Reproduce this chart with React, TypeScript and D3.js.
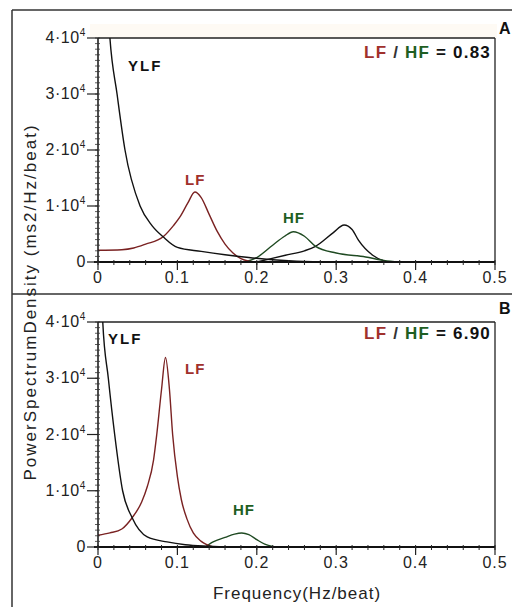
import React from "react";
import * as d3 from "d3";

// panel A: spectrum (freq Hz/beat, psd ms2/Hz/beat)
const aYlf: [number, number][] = [
  [0.01, 52000], [0.015, 40000], [0.024, 30000], [0.034, 20000], [0.053, 10000],
  [0.068, 6500], [0.082, 4500], [0.1, 2600], [0.13, 1900], [0.16, 1300],
  [0.19, 800], [0.22, 400], [0.25, 150], [0.3, 0],
];
const aLf: [number, number][] = [
  [0, 2100], [0.03, 2200], [0.045, 2500], [0.06, 3200], [0.082, 4500],
  [0.095, 6500], [0.103, 8000], [0.113, 10500], [0.122, 12500], [0.13, 11500],
  [0.14, 8500], [0.15, 5500], [0.16, 3200], [0.17, 1600], [0.18, 600], [0.19, 150], [0.2, 0],
];
const aHf: [number, number][] = [
  [0.185, 0], [0.2, 800], [0.22, 3000], [0.235, 4600], [0.246, 5400], [0.26, 4600],
  [0.274, 2800], [0.3, 1600], [0.337, 900], [0.36, 300], [0.38, 0],
];
const aVhf: [number, number][] = [
  [0.2, 0], [0.236, 1200], [0.26, 2000], [0.274, 2800], [0.296, 5200], [0.31, 6600],
  [0.32, 5800], [0.328, 3900], [0.346, 1200], [0.36, 200], [0.37, 0],
];
const aRatio = "0.83";

// panel B
const bYlf: [number, number][] = [
  [0.004, 60000], [0.006, 40000], [0.013, 30000], [0.021, 20000], [0.031, 10000],
  [0.043, 5200], [0.062, 1800], [0.087, 900], [0.11, 400], [0.14, 150], [0.17, 0],
];
const bLf: [number, number][] = [
  [0, 2100], [0.015, 2500], [0.03, 3200], [0.043, 5200], [0.055, 8000], [0.062, 10700],
  [0.07, 15500], [0.074, 20000], [0.08, 28000], [0.085, 33700], [0.09, 28000],
  [0.094, 20000], [0.1, 12500], [0.105, 8400], [0.112, 5000], [0.12, 2500],
  [0.13, 1000], [0.145, 0],
];
const bHf: [number, number][] = [
  [0.135, 0], [0.145, 900], [0.16, 1700], [0.172, 2300], [0.181, 2500], [0.19, 2200],
  [0.2, 1300], [0.21, 500], [0.22, 100], [0.225, 0],
];
const bRatio = "6.90";

const xTicks = [0, 0.1, 0.2, 0.3, 0.4, 0.5];
const yTicks = [0, 10000, 20000, 30000, 40000];

const LF_COL = "#7a2222";
const HF_COL = "#1f4a22";
const LF_TXT = "#a0302c";
const HF_TXT = "#1e5e22";
const FONT = "'Liberation Sans', Arial, sans-serif";

function Panel({ id, top, bottom, ylf, lf, hf, vhf, ratio, labels }: any) {
  const x = d3.scaleLinear().domain([0, 0.5]).range([98, 495]);
  const y = d3.scaleLinear().domain([0, 40000]).range([bottom, top]);
  const line = d3.line<[number, number]>()
    .x(d => x(d[0]))
    .y(d => y(d[1]))
    .curve(d3.curveMonotoneX);
  const minorX = d3.range(0, 0.5001, 0.02);
  const minorY = d3.range(0, 40001, 1000);
  const fmtY = (v: number) => v === 0 ? "0" : null;
  return (
    <g>
      <defs>
        <clipPath id={"clip" + id}>
          <rect x={x(0)} y={y(40000)} width={x(0.5) - x(0)} height={y(0) - y(40000) + 2} />
        </clipPath>
      </defs>
      {/* frame */}
      <line x1={x(0)} x2={x(0.5)} y1={y(40000)} y2={y(40000)} stroke="#222" strokeWidth={1.3} />
      <line x1={x(0.5)} x2={x(0.5)} y1={y(40000)} y2={y(0)} stroke="#222" strokeWidth={1.3} />
      {/* curves */}
      <g clipPath={`url(#clip${id})`} fill="none" strokeWidth={1.4}>
        {vhf && <path d={line(vhf) || ""} stroke="#111" />}
        <path d={line(hf) || ""} stroke={HF_COL} />
        <path d={line(lf) || ""} stroke={LF_COL} />
        <path d={line(ylf) || ""} stroke="#111" />
      </g>
      {/* x axis */}
      <line x1={x(0) - 4} x2={x(0.5)} y1={y(0)} y2={y(0)} stroke="#111" strokeWidth={2} />
      {minorX.map((t, i) => (
        <line key={"mx" + i} x1={x(t)} x2={x(t)} y1={y(0) - 2} y2={y(0) + 3} stroke="#222" strokeWidth={1} />
      ))}
      {xTicks.map(t => (
        <g key={"xt" + t}>
          <line x1={x(t)} x2={x(t)} y1={y(0)} y2={y(0) + 8} stroke="#222" strokeWidth={1.2} />
          <text x={x(t)} y={y(0) + 21} textAnchor="middle" fontSize={16} letterSpacing={1}
            fill="#222" fontFamily={FONT}>{t === 0 ? "0" : d3.format(".1f")(t)}</text>
        </g>
      ))}
      {/* y axis */}
      <line x1={x(0)} x2={x(0)} y1={y(40000)} y2={y(0)} stroke="#111" strokeWidth={1.5} />
      {minorY.map((t, i) => (
        <line key={"my" + i} x1={x(0) - 3} x2={x(0) + 2} y1={y(t)} y2={y(t)} stroke="#333" strokeWidth={0.8} />
      ))}
      {yTicks.map(t => (
        <g key={"yt" + t}>
          <line x1={x(0) - 11} x2={x(0)} y1={y(t)} y2={y(t)} stroke="#222" strokeWidth={1.2} />
          <text x={x(0) - 12} y={y(t) + 5} textAnchor="end" fontSize={16} letterSpacing={0.6}
            fill="#222" fontFamily={FONT}>
            {fmtY(t) ?? (
              <>
                {`${t / 10000}·10`}
                <tspan fontSize={10} dy={-7}>4</tspan>
              </>
            )}
          </text>
        </g>
      ))}
      {/* labels */}
      <g fontFamily={FONT} fontWeight="bold">
        <text x={labels.ylf[0]} y={labels.ylf[1]} fontSize={15} letterSpacing={2} fill="#111">YLF</text>
        <text x={labels.lf[0]} y={labels.lf[1]} fontSize={15} letterSpacing={1} fill={LF_TXT}>LF</text>
        <text x={labels.hf[0]} y={labels.hf[1]} fontSize={15} letterSpacing={1} fill={HF_TXT}>HF</text>
        <text x={491} y={labels.ratioY} textAnchor="end" fontSize={17} letterSpacing={1.2} fill="#111">
          <tspan fill={LF_TXT}>LF</tspan>
          <tspan fill="#333"> / </tspan>
          <tspan fill={HF_TXT}>HF</tspan>
          <tspan> = {ratio}</tspan>
        </text>
        <text x={499} y={labels.panelY} fontSize={16} fill="#111">{id}</text>
      </g>
    </g>
  );
}

export default function App() {
  return (
    <svg width={512} height={607} style={{ position: "absolute", left: 0, top: 0, background: "#fff" }}>
      <rect x={90} y={24} width={407} height={14} fill="#fefaf4" />
      <line x1={12} x2={512} y1={10} y2={10} stroke="#333" strokeWidth={1.5} />
      <line x1={12} x2={12} y1={10} y2={607} stroke="#333" strokeWidth={1.5} />
      <line x1={12} x2={512} y1={294} y2={294} stroke="#333" strokeWidth={1.5} />
      <Panel id="A" top={38} bottom={262} ylf={aYlf} lf={aLf} hf={aHf} vhf={aVhf} ratio={aRatio}
        labels={{ ylf: [128, 71], lf: [185, 185], hf: [283, 223], ratioY: 58, panelY: 34 }} />
      <Panel id="B" top={322} bottom={547} ylf={bYlf} lf={bLf} hf={bHf} vhf={null} ratio={bRatio}
        labels={{ ylf: [108, 344], lf: [185, 374], hf: [233, 515], ratioY: 339, panelY: 314 }} />
      <text x={297} y={599} textAnchor="middle" fontSize={17} letterSpacing={1} fill="#222"
        fontFamily={FONT}>Frequency(Hz/beat)</text>
      <text transform="translate(36,302) rotate(-90)" textAnchor="middle" fontSize={17} letterSpacing={2}
        fill="#222" fontFamily={FONT}>PowerSpectrumDensity (ms2/Hz/beat)</text>
    </svg>
  );
}
